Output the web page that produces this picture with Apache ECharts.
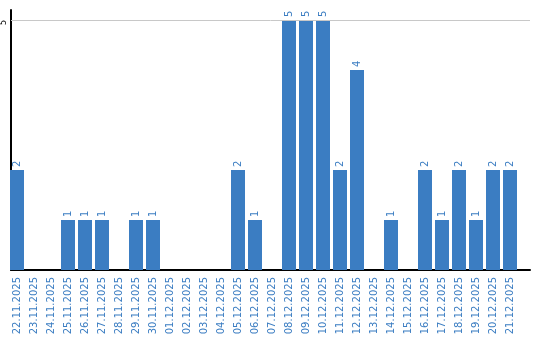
<!DOCTYPE html>
<html><head><meta charset="utf-8">
<script src="https://cdn.jsdelivr.net/npm/echarts@6/dist/echarts.min.js"></script>
<style>html,body{margin:0;padding:0;background:#fff}#c{width:540px;height:340px}</style>
</head><body><div id="c"></div>
<script>
const categories = ['22.11.2025','23.11.2025','24.11.2025','25.11.2025','26.11.2025','27.11.2025','28.11.2025','29.11.2025','30.11.2025','01.12.2025','02.12.2025','03.12.2025','04.12.2025','05.12.2025','06.12.2025','07.12.2025','08.12.2025','09.12.2025','10.12.2025','11.12.2025','12.12.2025','13.12.2025','14.12.2025','15.12.2025','16.12.2025','17.12.2025','18.12.2025','19.12.2025','20.12.2025','21.12.2025'];
const values = [2,0,0,1,1,1,0,1,1,0,0,0,0,2,1,0,5,5,5,2,4,0,1,0,2,1,2,1,2,2];
const yTicks = [5];
const blue = '#3b7dc2';
const font = 'DejaVu Sans, Verdana, sans-serif';
const chart = echarts.init(document.getElementById('c'));
chart.setOption({
  animation: false,
  grid: [
    {left: 10, top: 10, width: 520, height: 260},
    {left: 8.5, top: 10, width: 510, height: 260}
  ],
  xAxis: [
    {gridIndex: 0, type: 'value', min: 0, max: 1, axisLine: {show: true, onZero: false, lineStyle: {color: '#000', width: 2}}, axisTick: {show: false}, axisLabel: {show: false}, splitLine: {show: false}},
    {gridIndex: 1, type: 'category', data: categories, axisLine: {show: false}, axisTick: {show: false},
     axisLabel: {interval: 0, rotate: 90, margin: 7, color: blue, fontSize: 10, fontFamily: font}}
  ],
  yAxis: [
    {gridIndex: 0, type: 'value', min: 0, max: 5.2, interval: 5,
     axisLine: {show: true, lineStyle: {color: '#000', width: 2}}, axisTick: {show: false}, splitLine: {show: false},
     axisLabel: {rotate: 90, margin: 3, fontSize: 8, align: 'right', color: '#000', fontFamily: font,
       formatter: v => yTicks.includes(v) ? String(v) : ''}},
    {gridIndex: 1, type: 'value', min: 0, max: 5.2, show: false}
  ],
  series: [
    {type: 'line', xAxisIndex: 0, yAxisIndex: 0, data: [], silent: true,
     markLine: {silent: true, symbol: 'none', label: {show: false}, lineStyle: {color: '#c8c8c8', type: 'solid', width: 1},
       data: yTicks.map(t => ({yAxis: t}))}},
    {type: 'bar', xAxisIndex: 1, yAxisIndex: 1, data: values, barWidth: 14, itemStyle: {color: blue},
     label: {show: true, position: 'top', rotate: 90, align: 'left', verticalAlign: 'middle', distance: 3,
       color: blue, fontSize: 10, fontFamily: font, formatter: p => p.value > 0 ? String(p.value) : ''}}
  ]
});
</script></body></html>
